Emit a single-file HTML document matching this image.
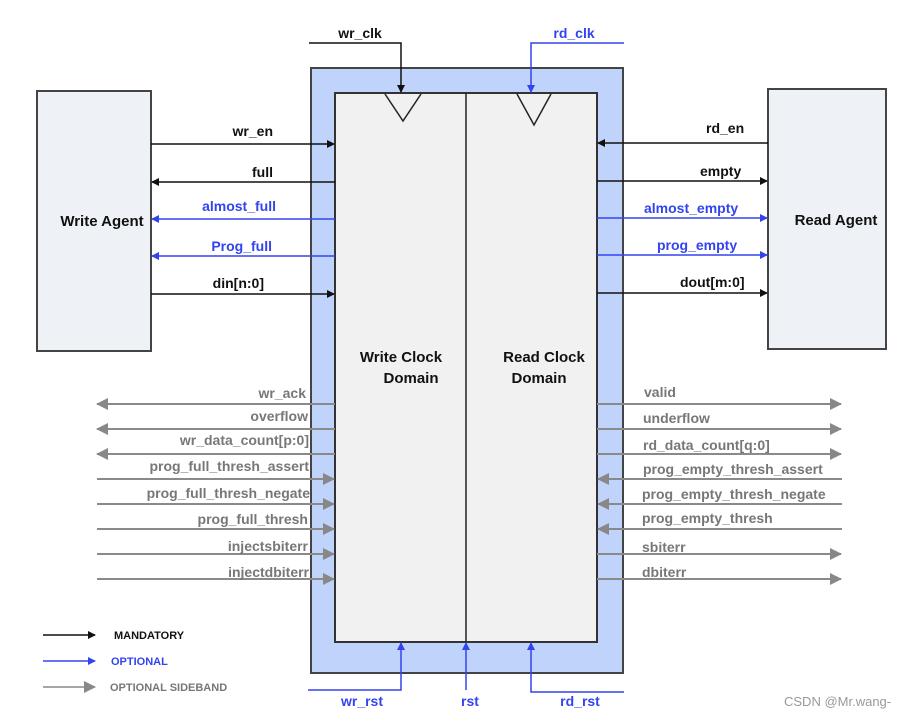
<!DOCTYPE html>
<html><head><style>body{margin:0;background:#fff}svg{display:block}text{font-family:"Liberation Sans",Arial,sans-serif;font-weight:bold}</style></head><body>
<svg width="904" height="719" viewBox="0 0 904 719" xmlns="http://www.w3.org/2000/svg">
<defs>
<marker id="k" markerWidth="8" markerHeight="8" refX="7" refY="4" orient="auto" markerUnits="userSpaceOnUse"><path d="M0,0L8,4L0,8z" fill="#111"/></marker>
<marker id="b" markerWidth="8" markerHeight="8" refX="7" refY="4" orient="auto" markerUnits="userSpaceOnUse"><path d="M0,0L8,4L0,8z" fill="#3344ee"/></marker>
<marker id="g" markerWidth="12" markerHeight="12" refX="11" refY="6" orient="auto" markerUnits="userSpaceOnUse"><path d="M0,0L12,6L0,12z" fill="#888"/></marker>
</defs>
<rect x="311" y="68" width="312" height="605" fill="#bfd3fb" stroke="#444" stroke-width="2"/>
<rect x="335" y="93" width="262" height="549" fill="#f1f1f1" stroke="#333" stroke-width="2"/>
<line x1="466" y1="93" x2="466" y2="642" stroke="#222" stroke-width="1.5"/>
<rect x="37" y="91" width="114" height="260" fill="#eef1f6" stroke="#444" stroke-width="2"/>
<rect x="768" y="89" width="118" height="260" fill="#eef1f6" stroke="#444" stroke-width="2"/>
<path d="M385,94L403,121L421,94" fill="none" stroke="#222" stroke-width="1.5"/>
<path d="M517,94L534,125L551,94" fill="none" stroke="#222" stroke-width="1.5"/>
<g font-size="15" text-anchor="middle" fill="#111">
<text x="401" y="362">Write Clock</text><text x="411" y="383">Domain</text>
<text x="544" y="362">Read Clock</text><text x="539" y="383">Domain</text>
<text x="102" y="226">Write Agent</text><text x="836" y="225">Read Agent</text>
</g>
<!-- clocks -->
<polyline points="309,43 401,43 401,92" fill="none" stroke="#111" stroke-width="1.5" marker-end="url(#k)"/>
<polyline points="624,43 531,43 531,92" fill="none" stroke="#3344ee" stroke-width="1.5" marker-end="url(#b)"/>
<text x="360" y="38" font-size="14" text-anchor="middle" fill="#111">wr_clk</text>
<text x="574" y="38" font-size="14" text-anchor="middle" fill="#3344ee">rd_clk</text>
<!-- left main -->
<g stroke-width="1.5" fill="none">
<line x1="151" y1="144" x2="334" y2="144" stroke="#111" marker-end="url(#k)"/>
<line x1="335" y1="182" x2="152" y2="182" stroke="#111" marker-end="url(#k)"/>
<line x1="335" y1="219" x2="152" y2="219" stroke="#3344ee" marker-end="url(#b)"/>
<line x1="335" y1="256" x2="152" y2="256" stroke="#3344ee" marker-end="url(#b)"/>
<line x1="151" y1="294" x2="334" y2="294" stroke="#111" marker-end="url(#k)"/>
<line x1="768" y1="143" x2="598" y2="143" stroke="#111" marker-end="url(#k)"/>
<line x1="597" y1="181" x2="767" y2="181" stroke="#111" marker-end="url(#k)"/>
<line x1="597" y1="218" x2="767" y2="218" stroke="#3344ee" marker-end="url(#b)"/>
<line x1="597" y1="255" x2="767" y2="255" stroke="#3344ee" marker-end="url(#b)"/>
<line x1="597" y1="293" x2="767" y2="293" stroke="#111" marker-end="url(#k)"/>
</g>
<g font-size="14">
<text x="273" y="136" text-anchor="end" fill="#111">wr_en</text>
<text x="273" y="177" text-anchor="end" fill="#111">full</text>
<text x="276" y="211" text-anchor="end" fill="#3344ee">almost_full</text>
<text x="272" y="251" text-anchor="end" fill="#3344ee">Prog_full</text>
<text x="264" y="288" text-anchor="end" fill="#111">din[n:0]</text>
<text x="706" y="133" fill="#111">rd_en</text>
<text x="700" y="176" fill="#111">empty</text>
<text x="644" y="213" fill="#3344ee">almost_empty</text>
<text x="657" y="250" fill="#3344ee">prog_empty</text>
<text x="680" y="287" fill="#111">dout[m:0]</text>
</g>
<!-- sideband -->
<g stroke="#8a8a8a" stroke-width="2" fill="none">
<line x1="335" y1="404" x2="97" y2="404" marker-end="url(#g)"/>
<line x1="335" y1="429" x2="97" y2="429" marker-end="url(#g)"/>
<line x1="335" y1="454" x2="97" y2="454" marker-end="url(#g)"/>
<line x1="97" y1="479" x2="334" y2="479" marker-end="url(#g)"/>
<line x1="97" y1="504" x2="334" y2="504" marker-end="url(#g)"/>
<line x1="97" y1="529" x2="334" y2="529" marker-end="url(#g)"/>
<line x1="97" y1="554" x2="334" y2="554" marker-end="url(#g)"/>
<line x1="97" y1="579" x2="334" y2="579" marker-end="url(#g)"/>
<line x1="597" y1="404" x2="841" y2="404" marker-end="url(#g)"/>
<line x1="597" y1="429" x2="841" y2="429" marker-end="url(#g)"/>
<line x1="597" y1="454" x2="841" y2="454" marker-end="url(#g)"/>
<line x1="842" y1="479" x2="598" y2="479" marker-end="url(#g)"/>
<line x1="842" y1="504" x2="598" y2="504" marker-end="url(#g)"/>
<line x1="842" y1="529" x2="598" y2="529" marker-end="url(#g)"/>
<line x1="597" y1="554" x2="841" y2="554" marker-end="url(#g)"/>
<line x1="597" y1="579" x2="841" y2="579" marker-end="url(#g)"/>
</g>
<g font-size="14" fill="#777">
<g text-anchor="end">
<text x="306" y="398">wr_ack</text>
<text x="308" y="421">overflow</text>
<text x="309" y="445">wr_data_count[p:0]</text>
<text x="309" y="471">prog_full_thresh_assert</text>
<text x="310" y="498">prog_full_thresh_negate</text>
<text x="308" y="524">prog_full_thresh</text>
<text x="308" y="551">injectsbiterr</text>
<text x="309" y="577">injectdbiterr</text>
</g>
<text x="644" y="397">valid</text>
<text x="643" y="423">underflow</text>
<text x="643" y="450">rd_data_count[q:0]</text>
<text x="643" y="474">prog_empty_thresh_assert</text>
<text x="642" y="499">prog_empty_thresh_negate</text>
<text x="642" y="523">prog_empty_thresh</text>
<text x="642" y="552">sbiterr</text>
<text x="642" y="577">dbiterr</text>
</g>
<!-- resets -->
<g stroke="#3344ee" stroke-width="1.5" fill="none">
<polyline points="308,690 401,690 401,643" marker-end="url(#b)"/>
<line x1="466" y1="690" x2="466" y2="643" marker-end="url(#b)"/>
<polyline points="624,692 531,692 531,643" marker-end="url(#b)"/>
</g>
<g font-size="14" fill="#3344ee" text-anchor="middle">
<text x="362" y="706">wr_rst</text><text x="470" y="706">rst</text><text x="580" y="706">rd_rst</text>
</g>
<!-- legend -->
<line x1="43" y1="635" x2="95" y2="635" stroke="#111" stroke-width="1.5" marker-end="url(#k)"/>
<line x1="43" y1="661" x2="95" y2="661" stroke="#3344ee" stroke-width="1.5" marker-end="url(#b)"/>
<line x1="43" y1="687" x2="95" y2="687" stroke="#888" stroke-width="1.5" marker-end="url(#g)"/>
<g font-size="11">
<text x="114" y="639" fill="#111">MANDATORY</text>
<text x="111" y="665" fill="#3344ee">OPTIONAL</text>
<text x="110" y="691" fill="#777">OPTIONAL SIDEBAND</text>
</g>
<text x="784" y="706" font-size="13" fill="#999" style="font-weight:normal">CSDN @Mr.wang-</text>
</svg>
</body></html>
